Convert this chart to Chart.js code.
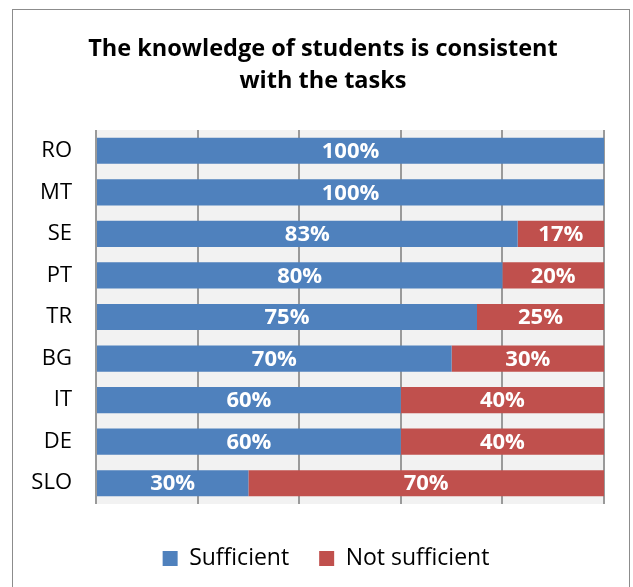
<!DOCTYPE html>
<html>
<head>
<meta charset="utf-8">
<script src="https://cdn.jsdelivr.net/npm/chart.js@4.4.1/dist/chart.umd.min.js"></script>
<style>
  html, body { margin:0; padding:0; background:#fff; }
  #wrap { position:relative; width:633px; height:587px; overflow:hidden; }
  #frame { position:absolute; left:12px; top:9px; width:618px; height:600px; border:1.5px solid #8c8c8c; box-sizing:border-box; }
  #chart { position:absolute; left:0; top:0; }
</style>
</head>
<body>
<div id="wrap">
  <div id="frame"></div>
  <canvas id="chart" width="633" height="587"></canvas>
</div>
<script>
// -- DATA
const countries     = ['RO','MT','SE','PT','TR','BG','IT','DE','SLO'];
const sufficient    = [100,100,83,80,75,70,60,60,30];
const notSufficient = [0,0,17,20,25,30,40,40,70];
const titleLines    = ['The knowledge of students is consistent','with the tasks'];

const FONT = '"Open Sans", sans-serif';

// -- PLOT BACKGROUND
const plotBg = {
  id: 'plotBg',
  beforeDraw(chart) {
    const { ctx, chartArea: a } = chart;
    ctx.save();
    ctx.fillStyle = '#f2f2f2';
    ctx.fillRect(a.left, a.top, a.right - a.left, a.bottom - a.top);
    ctx.restore();
  }
};

// -- centre title + legend on the frame, not on the canvas
const shiftBlocks = {
  id: 'shiftBlocks',
  afterLayout(chart) {
    const move = (box, dx) => { if (box) { box.left += dx; box.right += dx; } };
    move(chart.titleBlock, 21);
    move(chart.legend, 24);
  }
};

// -- VALUE LABELS
const valueLabels = {
  id: 'valueLabels',
  afterDatasetsDraw(chart) {
    const ctx = chart.ctx;
    ctx.save();
    ctx.font = 'bold 22px ' + FONT;
    ctx.fillStyle = '#fff';
    ctx.textAlign = 'center';
    ctx.textBaseline = 'middle';
    chart.data.datasets.forEach((ds, di) => {
      chart.getDatasetMeta(di).data.forEach((bar, i) => {
        const v = ds.data[i];
        if (!v) return;
        ctx.fillText(v + '%', (bar.x + bar.base) / 2, bar.y + 1);
      });
    });
    ctx.restore();
  }
};

new Chart(document.getElementById('chart'), {
  type: 'bar',
  data: {
    labels: countries,
    datasets: [
      { label:'Sufficient',     data:sufficient,    backgroundColor:'#4f81bd', barPercentage:0.63, categoryPercentage:1 },
      { label:'Not sufficient', data:notSufficient, backgroundColor:'#c0504d', barPercentage:0.63, categoryPercentage:1 }
    ]
  },
  options: {
    indexAxis: 'y',
    responsive: false,
    animation: false,
    layout: { padding: { left:0, right:29, top:0, bottom:7 } },
    plugins: {
      title: {
        display: true, text: titleLines, color:'#000',
        font: { family:FONT, size:23.5, weight:'bold', lineHeight:32/23.5 },
        padding: { top:33, bottom:33 }
      },
      legend: {
        position: 'bottom',
        labels: {
          color:'#000', boxWidth:15, boxHeight:15, padding:30,
          font: { family:FONT, size:23 }
        }
      },
      tooltip: { enabled:false }
    },
    scales: {
      x: {
        stacked: true, min:0, max:100,
        ticks: { display:false, stepSize:20 },
        grid: { color:'#9a9a9a', lineWidth:2, drawTicks:false },
        border: { display:false },
        afterFit(scale) { scale.height = 13; }
      },
      y: {
        stacked: true,
        ticks: { color:'#000', padding:24, font:{ family:FONT, size:22 } },
        grid: { display:false, drawTicks:false },
        border: { display:false },
        afterFit(scale) { scale.width = 96; }
      }
    }
  },
  plugins: [plotBg, shiftBlocks, valueLabels]
});
</script>
</body>
</html>
